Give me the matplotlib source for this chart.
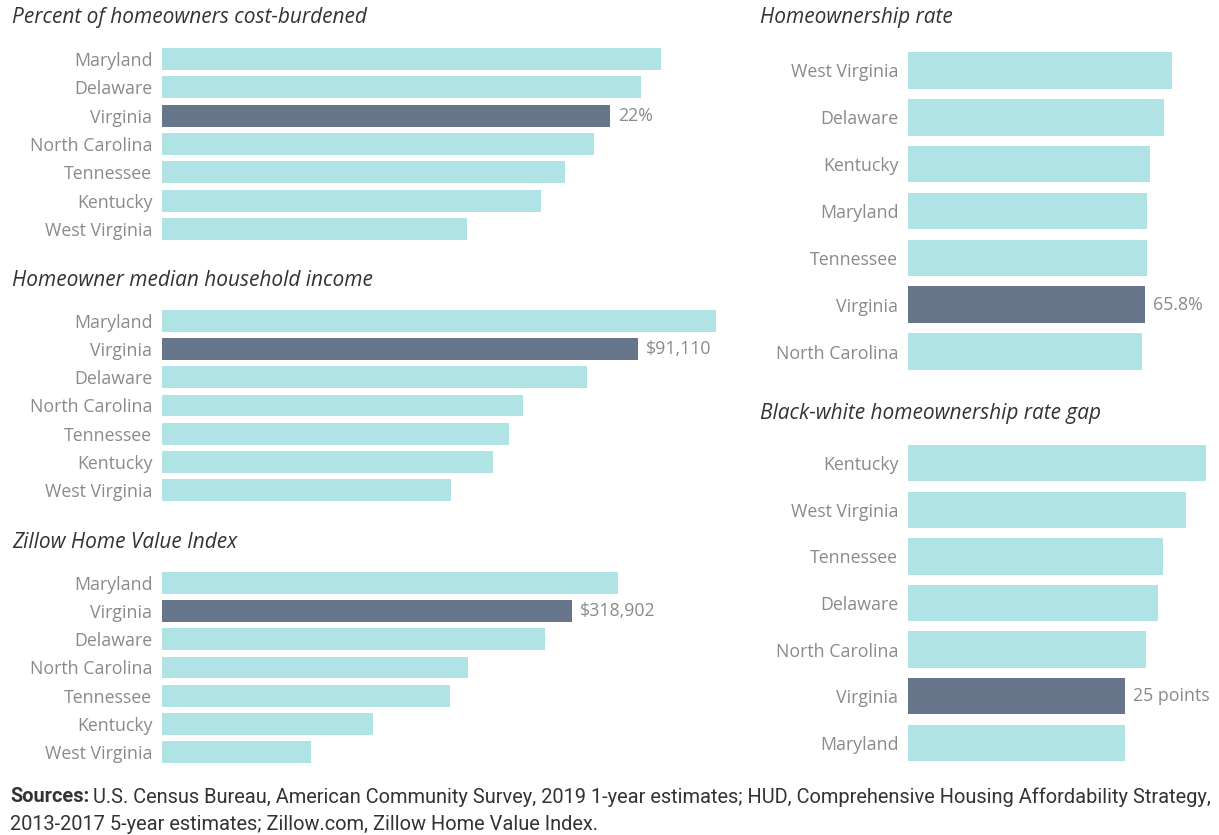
import matplotlib.pyplot as plt

# Data
cost_states = ["Maryland", "Delaware", "Virginia", "North Carolina", "Tennessee", "Kentucky", "West Virginia"]
cost_values = [24.5, 23.5, 22.0, 21.2, 19.8, 18.6, 15.0]

income_states = ["Maryland", "Virginia", "Delaware", "North Carolina", "Tennessee", "Kentucky", "West Virginia"]
income_values = [106040, 91110, 81350, 69100, 66420, 63360, 55320]

zhvi_states = ["Maryland", "Virginia", "Delaware", "North Carolina", "Tennessee", "Kentucky", "West Virginia"]
zhvi_values = [354680, 318902, 297900, 238010, 224010, 164120, 115890]

own_states = ["West Virginia", "Delaware", "Kentucky", "Maryland", "Tennessee", "Virginia", "North Carolina"]
own_values = [73.3, 71.1, 67.2, 66.4, 66.5, 65.8, 65.0]

gap_states = ["Kentucky", "West Virginia", "Tennessee", "Delaware", "North Carolina", "Virginia", "Maryland"]
gap_values = [34.3, 32.0, 29.4, 28.8, 27.4, 25.0, 25.0]

LIGHT = "#b0e3e3"
DARK = "#66758a"
LABEL = "#8a8a8a"
TITLE = "#333333"
FONT = "Open Sans"
SRC_FONT = "Roboto"

W, H = 1219, 835
fig = plt.figure(figsize=(W / 100, H / 100), dpi=100)


def panel(left, top, width, height, states, values, xmax, label, title, title_x, title_y):
    ax = fig.add_axes([left / W, 1 - (top + height) / H, width / W, height / H])
    colors = [DARK if s == "Virginia" else LIGHT for s in states]
    ax.barh(range(len(states)), values, height=0.78, color=colors)
    ax.set_xlim(0, xmax)
    ax.set_ylim(len(states) - 0.5, -0.5)
    ax.set_yticks(range(len(states)))
    ax.set_yticklabels(states, fontsize=12.8, color=LABEL, family=FONT)
    ax.tick_params(axis="y", length=0, pad=7)
    ax.set_xticks([])
    for sp in ax.spines.values():
        sp.set_visible(False)
    i = states.index("Virginia")
    ax.annotate(label, (values[i], i), xytext=(6, 0), textcoords="offset points",
                va="center", ha="left", fontsize=12.8, color=LABEL, family=FONT)
    fig.text(title_x / W, 1 - title_y / H, title, fontsize=15, style="italic",
             color=TITLE, family=FONT, va="center", ha="left")
    return ax


panel(162, 45, 560, 198, cost_states, cost_values, 27.5, "22%",
      "Percent of homeowners cost-burdened", 12, 18)
panel(162, 307, 560, 197, income_states, income_values, 107190, "$91,110",
      "Homeowner median household income", 12, 281)
panel(162, 569, 560, 197, zhvi_states, zhvi_values, 435570, "$318,902",
      "Zillow Home Value Index", 12, 543)
panel(908, 47, 300, 328, own_states, own_values, 83.3, "65.8%",
      "Homeownership rate", 760, 18)
panel(908, 440, 300, 326, gap_states, gap_values, 34.56, "25 points",
      "Black-white homeownership rate gap", 760, 414)

# Sources: shrink the font until line 1 spans x = 10..1207
line1 = ("U.S. Census Bureau, American Community Survey, 2019 1-year estimates; "
         "HUD, Comprehensive Housing Affordability Strategy,")
line2 = "2013-2017 5-year estimates; Zillow.com, Zillow Home Value Index."
size = 13.0
src_bold = fig.text(10 / W, 1 - 797 / H, "Sources:", fontsize=size, weight="bold",
                    color=TITLE, family=SRC_FONT, va="center", ha="left")
src_rest = fig.text(0, 1 - 797 / H, line1, fontsize=size, color=TITLE,
                    family=SRC_FONT, va="center", ha="left")
renderer = fig.canvas.get_renderer()
for _ in range(3):
    bb = src_bold.get_window_extent(renderer)
    src_rest.set_x((bb.x1 + 4) / W)
    right = src_rest.get_window_extent(renderer).x1
    size *= (1207 - 10) / (right - 10)
    src_bold.set_fontsize(size)
    src_rest.set_fontsize(size)
bb = src_bold.get_window_extent(renderer)
src_rest.set_x((bb.x1 + 4) / W)
fig.text(10 / W, 1 - 824 / H, line2, fontsize=size, color=TITLE,
         family=SRC_FONT, va="center", ha="left")

fig.savefig("out.png", dpi=100, facecolor="white")
